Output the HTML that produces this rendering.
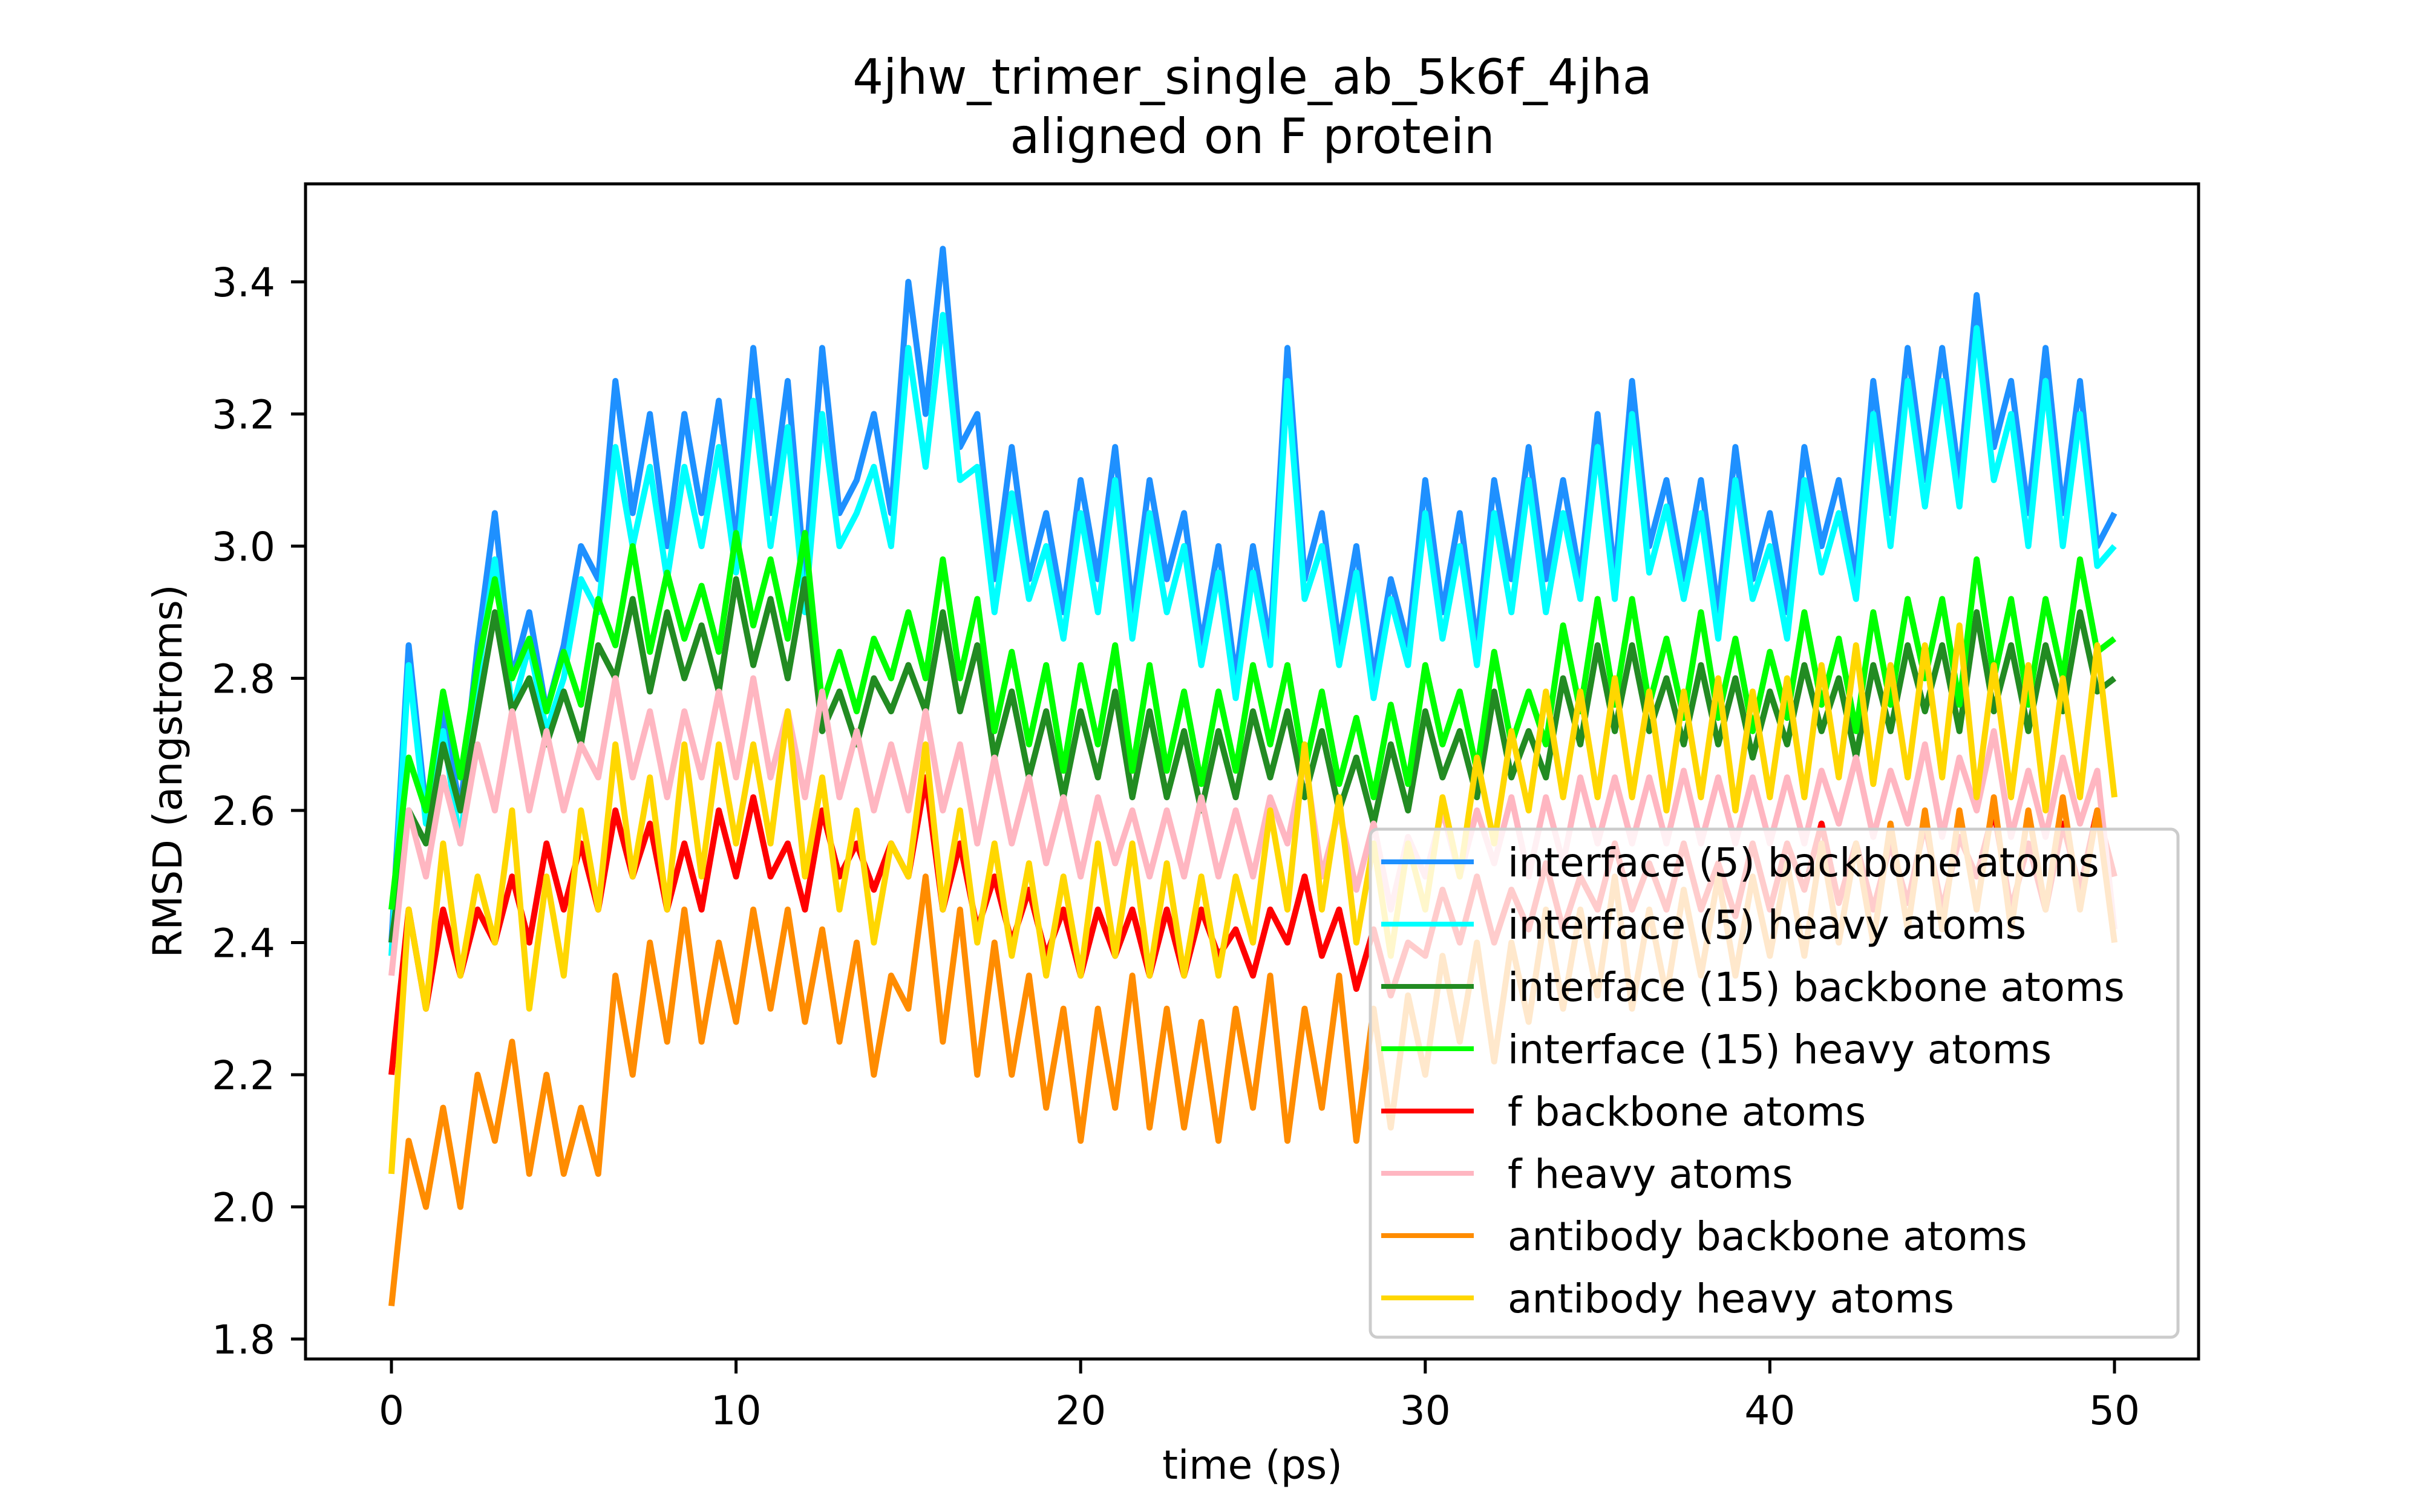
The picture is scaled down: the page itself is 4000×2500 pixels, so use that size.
<!DOCTYPE html>
<html><head><meta charset="utf-8"><style>
html,body{margin:0;padding:0;background:#fff}
svg{display:block}
text{font-family:"DejaVu Sans","Liberation Sans",sans-serif;fill:#000}
</style></head><body>
<svg id="chart" width="4000" height="2500" viewBox="0 0 4000 2500" xmlns="http://www.w3.org/2000/svg">
<rect width="4000" height="2500" fill="#fff"/>
<text x="2070" y="155" font-size="80" text-anchor="middle">4jhw_trimer_single_ab_5k6f_4jha</text>
<text x="2070" y="253" font-size="80" text-anchor="middle">aligned on F protein</text>
<g id="series"></g>
<rect x="505" y="304" width="3129" height="1943" fill="none" stroke="#000" stroke-width="5"/>
<g id="ticks"></g>
<text x="2070" y="2445" font-size="66" text-anchor="middle">time (ps)</text>
<text transform="translate(300,1275) rotate(-90)" font-size="66" text-anchor="middle">RMSD (angstroms)</text>
<g id="legend"></g>
</svg>
<script>
const times=[];for(let i=0;i<=100;i++)times.push(i/2);
const ifaceBackbone5=[2.4,2.85,2.6,2.75,2.6,2.85,3.05,2.8,2.9,2.75,2.85,3.0,2.95,3.25,3.05,3.2,3.0,3.2,3.05,3.22,3.0,3.3,3.05,3.25,2.95,3.3,3.05,3.1,3.2,3.05,3.4,3.2,3.45,3.15,3.2,2.95,3.15,2.95,3.05,2.9,3.1,2.95,3.15,2.9,3.1,2.95,3.05,2.85,3.0,2.8,3.0,2.85,3.3,2.95,3.05,2.85,3.0,2.8,2.95,2.85,3.1,2.9,3.05,2.85,3.1,2.95,3.15,2.95,3.1,2.95,3.2,2.95,3.25,3.0,3.1,2.95,3.1,2.9,3.15,2.95,3.05,2.9,3.15,3.0,3.1,2.95,3.25,3.05,3.3,3.1,3.3,3.1,3.38,3.15,3.25,3.05,3.3,3.05,3.25,3.0,3.05];
const ifaceHeavy5=[2.38,2.82,2.58,2.72,2.55,2.8,2.98,2.75,2.85,2.72,2.8,2.95,2.9,3.15,3.0,3.12,2.95,3.12,3.0,3.15,2.96,3.22,3.0,3.18,2.9,3.2,3.0,3.05,3.12,3.0,3.3,3.12,3.35,3.1,3.12,2.9,3.08,2.92,3.0,2.86,3.05,2.9,3.1,2.86,3.05,2.9,3.0,2.82,2.96,2.77,2.96,2.82,3.25,2.92,3.0,2.82,2.96,2.77,2.92,2.82,3.05,2.86,3.0,2.82,3.05,2.9,3.1,2.9,3.05,2.92,3.15,2.92,3.2,2.96,3.06,2.92,3.05,2.86,3.1,2.92,3.0,2.86,3.1,2.96,3.05,2.92,3.2,3.0,3.25,3.06,3.25,3.06,3.33,3.1,3.2,3.0,3.25,3.0,3.2,2.97,3.0];
const ifaceBackbone15=[2.4,2.6,2.55,2.7,2.6,2.75,2.9,2.75,2.8,2.7,2.78,2.7,2.85,2.8,2.92,2.78,2.9,2.8,2.88,2.78,2.95,2.82,2.92,2.8,2.95,2.72,2.78,2.7,2.8,2.75,2.82,2.75,2.9,2.75,2.85,2.68,2.78,2.65,2.75,2.62,2.75,2.65,2.78,2.62,2.75,2.62,2.72,2.6,2.72,2.62,2.75,2.65,2.75,2.62,2.72,2.6,2.68,2.58,2.7,2.6,2.75,2.65,2.72,2.62,2.78,2.65,2.72,2.65,2.8,2.7,2.85,2.72,2.85,2.72,2.8,2.7,2.82,2.7,2.8,2.68,2.78,2.7,2.82,2.72,2.8,2.68,2.82,2.72,2.85,2.75,2.85,2.72,2.9,2.75,2.85,2.72,2.85,2.75,2.9,2.78,2.8];
const ifaceHeavy15=[2.45,2.68,2.6,2.78,2.65,2.82,2.95,2.8,2.86,2.75,2.84,2.76,2.92,2.85,3.0,2.84,2.96,2.86,2.94,2.84,3.02,2.88,2.98,2.86,3.02,2.76,2.84,2.75,2.86,2.8,2.9,2.8,2.98,2.8,2.92,2.72,2.84,2.7,2.82,2.66,2.82,2.7,2.85,2.66,2.82,2.66,2.78,2.64,2.78,2.66,2.82,2.7,2.82,2.66,2.78,2.64,2.74,2.62,2.76,2.64,2.82,2.7,2.78,2.66,2.84,2.7,2.78,2.7,2.88,2.75,2.92,2.76,2.92,2.76,2.86,2.74,2.9,2.74,2.86,2.72,2.84,2.74,2.9,2.76,2.86,2.72,2.9,2.76,2.92,2.8,2.92,2.76,2.98,2.8,2.92,2.76,2.92,2.8,2.98,2.84,2.86];
const fBackbone=[2.2,2.45,2.3,2.45,2.35,2.45,2.4,2.5,2.4,2.55,2.45,2.55,2.45,2.6,2.5,2.58,2.45,2.55,2.45,2.6,2.5,2.62,2.5,2.55,2.45,2.6,2.5,2.55,2.48,2.55,2.5,2.65,2.45,2.55,2.42,2.5,2.4,2.48,2.38,2.45,2.35,2.45,2.38,2.45,2.35,2.45,2.35,2.45,2.38,2.42,2.35,2.45,2.4,2.5,2.38,2.45,2.33,2.42,2.32,2.4,2.38,2.48,2.4,2.5,2.4,2.48,2.42,2.52,2.42,2.5,2.45,2.55,2.45,2.52,2.45,2.55,2.45,2.52,2.44,2.55,2.45,2.55,2.48,2.58,2.46,2.55,2.45,2.55,2.46,2.58,2.45,2.56,2.5,2.6,2.45,2.55,2.45,2.58,2.48,2.6,2.5];
const fHeavy=[2.35,2.6,2.5,2.65,2.55,2.7,2.6,2.75,2.6,2.72,2.6,2.7,2.65,2.8,2.65,2.75,2.62,2.75,2.65,2.78,2.65,2.8,2.65,2.75,2.62,2.78,2.62,2.72,2.6,2.7,2.6,2.75,2.6,2.7,2.55,2.68,2.55,2.65,2.52,2.62,2.5,2.62,2.52,2.6,2.5,2.6,2.5,2.62,2.5,2.6,2.5,2.62,2.55,2.68,2.5,2.6,2.48,2.58,2.45,2.56,2.5,2.6,2.5,2.6,2.52,2.62,2.5,2.62,2.52,2.65,2.55,2.65,2.55,2.65,2.55,2.66,2.55,2.65,2.55,2.65,2.55,2.65,2.55,2.66,2.58,2.68,2.56,2.66,2.58,2.7,2.56,2.68,2.6,2.72,2.56,2.66,2.56,2.68,2.58,2.66,2.42];
const abBackbone=[1.85,2.1,2.0,2.15,2.0,2.2,2.1,2.25,2.05,2.2,2.05,2.15,2.05,2.35,2.2,2.4,2.25,2.45,2.25,2.4,2.28,2.45,2.3,2.45,2.28,2.42,2.25,2.4,2.2,2.35,2.3,2.5,2.25,2.45,2.2,2.4,2.2,2.35,2.15,2.3,2.1,2.3,2.15,2.35,2.12,2.3,2.12,2.28,2.1,2.3,2.15,2.35,2.1,2.3,2.15,2.35,2.1,2.3,2.12,2.32,2.2,2.38,2.25,2.4,2.22,2.4,2.28,2.45,2.3,2.45,2.32,2.5,2.3,2.45,2.32,2.48,2.35,2.5,2.35,2.5,2.38,2.52,2.38,2.55,2.4,2.55,2.4,2.58,2.42,2.6,2.42,2.6,2.45,2.62,2.42,2.6,2.45,2.62,2.45,2.6,2.4];
const abHeavy=[2.05,2.45,2.3,2.55,2.35,2.5,2.4,2.6,2.3,2.5,2.35,2.6,2.45,2.7,2.5,2.65,2.45,2.7,2.5,2.7,2.55,2.7,2.55,2.75,2.5,2.65,2.45,2.6,2.4,2.55,2.5,2.7,2.45,2.6,2.4,2.55,2.38,2.52,2.35,2.5,2.35,2.55,2.38,2.55,2.35,2.52,2.35,2.5,2.35,2.5,2.4,2.6,2.45,2.7,2.45,2.62,2.4,2.55,2.38,2.55,2.45,2.62,2.5,2.68,2.55,2.72,2.6,2.78,2.62,2.78,2.62,2.8,2.62,2.78,2.6,2.78,2.62,2.8,2.6,2.78,2.62,2.8,2.62,2.82,2.65,2.85,2.64,2.82,2.65,2.85,2.65,2.88,2.62,2.82,2.62,2.82,2.6,2.8,2.62,2.85,2.62];
const xTicks=[0,10,20,30,40,50];
const yTicks=[1.8,2.0,2.2,2.4,2.6,2.8,3.0,3.2,3.4];
const seriesNames=["interface (5) backbone atoms","interface (5) heavy atoms","interface (15) backbone atoms","interface (15) heavy atoms","f backbone atoms","f heavy atoms","antibody backbone atoms","antibody heavy atoms"];
const seriesColors=["#1e90ff","#00ffff","#228b22","#00ff00","#ff0000","#ffb6c1","#ff8c00","#ffd700"];
const seriesData=[ifaceBackbone5,ifaceHeavy5,ifaceBackbone15,ifaceHeavy15,fBackbone,fHeavy,abBackbone,abHeavy];
const NS="http://www.w3.org/2000/svg";
function xs(v){return 647+(v-0)*(3495-647)/50;}
function ys(v){return 2214-(v-1.8)*(2214-466)/1.6;}
const sg=document.getElementById('series');
seriesData.forEach((d,k)=>{
  const p=document.createElementNS(NS,'path');
  
  
  p.setAttribute('d',d.map((v,i)=>(i?'L':'M')+xs(times[i]).toFixed(1)+','+ys(v).toFixed(1)).join(''));
  p.setAttribute('fill','none');p.setAttribute('stroke',seriesColors[k]);
  p.setAttribute('stroke-width','10');p.setAttribute('stroke-linejoin','round');
  sg.appendChild(p);
});
const tg=document.getElementById('ticks');
xTicks.forEach(t=>{
  const l=document.createElementNS(NS,'line');
  
  
  l.setAttribute('x1',xs(t));l.setAttribute('x2',xs(t));l.setAttribute('y1',2247);l.setAttribute('y2',2271);
  l.setAttribute('stroke','#000');l.setAttribute('stroke-width','5');tg.appendChild(l);
  const tx=document.createElementNS(NS,'text');
  
  
  tx.setAttribute('x',xs(t));tx.setAttribute('y',2355);tx.setAttribute('font-size','66');tx.setAttribute('text-anchor','middle');
  tx.textContent=t;tg.appendChild(tx);
});
yTicks.forEach(t=>{
  const l=document.createElementNS(NS,'line');
  
  
  l.setAttribute('x1',481);l.setAttribute('x2',505);l.setAttribute('y1',ys(t));l.setAttribute('y2',ys(t));
  l.setAttribute('stroke','#000');l.setAttribute('stroke-width','5');tg.appendChild(l);
  const tx=document.createElementNS(NS,'text');
  
  
  tx.setAttribute('x',455);tx.setAttribute('y',ys(t)+24);tx.setAttribute('font-size','66');tx.setAttribute('text-anchor','end');
  tx.textContent=t.toFixed(1);tg.appendChild(tx);
});
const lg=document.getElementById('legend');
const box=document.createElementNS(NS,'rect');


box.setAttribute('x',2265);box.setAttribute('y',1371);box.setAttribute('width',1335);box.setAttribute('height',840);
box.setAttribute('rx',12);box.setAttribute('fill','rgba(255,255,255,0.8)');box.setAttribute('stroke','#ccc');box.setAttribute('stroke-width','5');
lg.appendChild(box);
seriesNames.forEach((n,k)=>{
  const y=1425+k*103;
  const l=document.createElementNS(NS,'line');
  
  
  l.setAttribute('x1',2283);l.setAttribute('x2',2436);l.setAttribute('y1',y);l.setAttribute('y2',y);
  l.setAttribute('stroke',seriesColors[k]);l.setAttribute('stroke-width','8');lg.appendChild(l);
  const tx=document.createElementNS(NS,'text');
  
  
  tx.setAttribute('x',2492);tx.setAttribute('y',y+24);tx.setAttribute('font-size','66');
  tx.textContent=n;lg.appendChild(tx);
});
</script>
</body></html>
